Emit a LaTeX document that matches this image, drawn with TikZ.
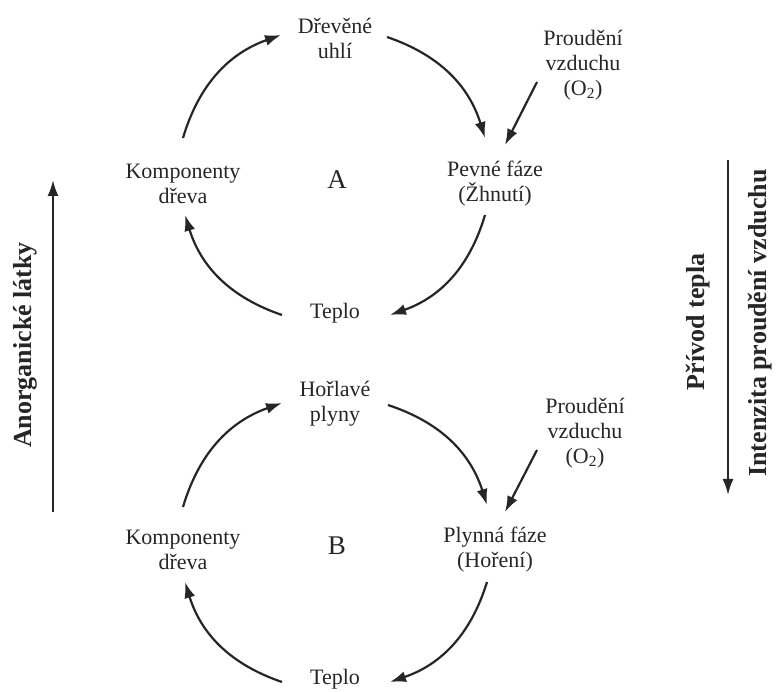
\documentclass[tikz,border=0pt]{standalone}
\usepackage{fontspec}
\setmainfont{Liberation Serif}
\usetikzlibrary{arrows.meta}

\tikzset{
  txt/.style={align=center, inner sep=0pt, text=black!85, font=\fontsize{22}{25}\selectfont},
  letter/.style={inner sep=0pt, text=black!85, font=\fontsize{27}{30}\selectfont},
  side/.style={rotate=90, inner sep=0pt, text=black!85, font=\fontsize{26}{30}\selectfont\bfseries},
  cyc/.style={line width=2.2pt, draw=black!85, -{Latex[length=16pt,width=11pt]}},
}

\begin{document}
\begin{tikzpicture}[x=1pt,y=1pt]
  \useasboundingbox (0,0) rectangle (776,691);

  % cycle A
  \node[txt] (uhliA) at (335,653) {Dřevěné\\uhlí};
  \node[txt] (kompA) at (183,507) {Komponenty\\dřeva};
  \node[txt] (pevneA) at (495,507) {Pevné fáze\\(Žhnutí)};
  \node[txt] (teploA) at (335,378) {Teplo};
  \node[txt] (vzduchA) at (583,626) {Proudění\\vzduchu\\(O\textsubscript{2})};
  \node[letter] (cycA) at (337,511) {A};

  \draw[cyc] ([yshift=46pt]kompA.center) to[bend left=27] ([xshift=-54pt,yshift=3pt]uhliA.center);
  \draw[cyc] ([xshift=52pt,yshift=1pt]uhliA.center) to[bend left=27] ([xshift=-10pt,yshift=46pt]pevneA.center);
  \draw[cyc] ([xshift=-10pt,yshift=-31pt]pevneA.center) to[bend left=27] ([xshift=55pt,yshift=-2pt]teploA.center);
  \draw[cyc] ([xshift=-53pt,yshift=-2pt]teploA.center) to[bend left=27] ([xshift=2pt,yshift=-31pt]kompA.center);
  \draw[cyc] ([xshift=-46pt,yshift=-17pt]vzduchA.center) -- ([xshift=10pt,yshift=39pt]pevneA.center);

  % cycle B
  \node[txt] (horlB) at (335,287) {Hořlavé\\plyny};
  \node[txt] (kompB) at (183,141) {Komponenty\\dřeva};
  \node[txt] (plynB) at (495,141) {Plynná fáze\\(Hoření)};
  \node[txt] (teploB) at (335,12) {Teplo};
  \node[txt] (vzduchB) at (585,258) {Proudění\\vzduchu\\(O\textsubscript{2})};
  \node[letter] (cycB) at (337,145) {B};

  \draw[cyc] ([yshift=43pt]kompB.center) to[bend left=27] ([xshift=-53pt,yshift=1pt]horlB.center);
  \draw[cyc] ([xshift=53pt,yshift=-1pt]horlB.center) to[bend left=27] ([xshift=-8pt,yshift=45pt]plynB.center);
  \draw[cyc] ([xshift=-8pt,yshift=-32pt]plynB.center) to[bend left=27] ([xshift=55pt,yshift=-3pt]teploB.center);
  \draw[cyc] ([xshift=-53pt,yshift=-3pt]teploB.center) to[bend left=27] ([xshift=2pt,yshift=-32pt]kompB.center);
  \draw[cyc] ([xshift=-48pt,yshift=-17pt]vzduchB.center) -- ([xshift=10pt,yshift=38pt]plynB.center);

  % side arrows
  \coordinate (anorgS) at (53,179);
  \coordinate (anorgE) at (53,511);
  \draw[cyc] (anorgS) -- (anorgE);
  \node[side] (anorg) at (25,346) {Anorganické látky};

  \coordinate (tepS) at (728,531);
  \coordinate (tepE) at (728,196);
  \draw[cyc] (tepS) -- (tepE);
  \node[side] (privod) at (698,369) {Přívod tepla};
  \node[side] (intenz) at (760,368) {Intenzita proudění vzduchu};
\end{tikzpicture}
\end{document}
